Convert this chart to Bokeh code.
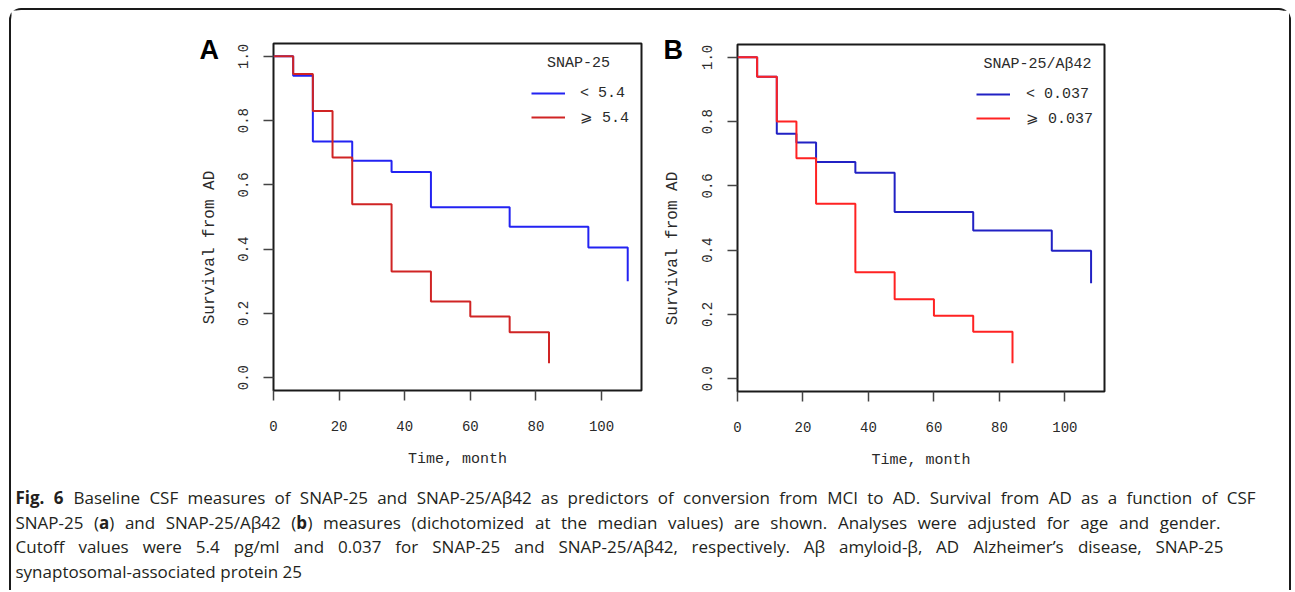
import math
from bokeh.plotting import figure
from bokeh.models import Range1d, FixedTicker, Label, Legend, LegendItem
from bokeh.layouts import column, row
from bokeh.embed import file_html
from bokeh.resources import INLINE
from bokeh.core.properties import value

# ---------------- data ----------------
month_ticks = [0, 20, 40, 60, 80, 100]
surv_ticks = [0.0, 0.2, 0.4, 0.6, 0.8, 1.0]
surv_tick_labels = ["0.0", "0.2", "0.4", "0.6", "0.8", "1.0"]

# Panel A: SNAP-25
a_low_t = [0, 6, 12, 24, 36, 48, 72, 96, 108]
a_low_s = [1.0, 0.94, 0.735, 0.675, 0.64, 0.53, 0.47, 0.405, 0.30]
a_high_t = [0, 6, 12, 18, 24, 36, 48, 60, 72, 84]
a_high_s = [1.0, 0.945, 0.83, 0.685, 0.54, 0.33, 0.237, 0.19, 0.141, 0.045]

# Panel B: SNAP-25/Abeta42
b_low_t = [0, 6, 12, 18, 24, 36, 48, 72, 96, 108]
b_low_s = [1.0, 0.94, 0.762, 0.735, 0.674, 0.641, 0.519, 0.461, 0.398, 0.297]
b_high_t = [0, 6, 12, 18, 24, 36, 48, 60, 72, 84]
b_high_s = [1.0, 0.94, 0.80, 0.686, 0.544, 0.331, 0.247, 0.196, 0.146, 0.048]

a_title = "SNAP-25"
a_labels = ["< 5.4", "\u2a7e 5.4"]
b_title = "SNAP-25/A\u03b242"
b_labels = ["< 0.037", "\u2a7e 0.037"]
y_title = "Survival from AD"
x_title = "Time, month"

# caption lines (**...** = bold)
caption_lines = [
    "**Fig. 6** Baseline CSF measures of SNAP-25 and SNAP-25/A\u03b242 as predictors of conversion from MCI to AD. Survival from AD as a function of CSF",
    "SNAP-25 (**a**) and SNAP-25/A\u03b242 (**b**) measures (dichotomized at the median values) are shown. Analyses were adjusted for age and gender.",
    "Cutoff values were 5.4 pg/ml and 0.037 for SNAP-25 and SNAP-25/A\u03b242, respectively. A\u03b2 amyloid-\u03b2, AD Alzheimer\u2019s disease, SNAP-25",
    "synaptosomal-associated protein 25",
]

MONO = "Liberation Mono"
TXT = "#2a2a2a"
H = 470


def side_strip(width, letter, letter_x, title_x, title_y):
    """Narrow strip holding the panel letter and the rotated y-axis title."""
    s = figure(width=width, height=H, x_range=Range1d(0, width), y_range=Range1d(H, 0),
               output_backend="svg", toolbar_location=None, min_border=0,
               frame_align=False)
    s.axis.visible = False
    s.grid.visible = False
    s.outline_line_color = None
    s.background_fill_color = "white"
    s.border_fill_color = "white"
    s.text(x=[letter_x], y=[39], text=[letter], text_font=value("Liberation Sans"),
           text_font_style="bold", text_font_size="27px", text_baseline="alphabetic",
           text_align="left", text_color="black")
    s.text(x=[title_x], y=[title_y], text=[y_title], angle=math.pi / 2,
           text_font=value(MONO), text_font_size="16px", text_baseline="middle",
           text_align="center", text_color=TXT)
    return s


def make_panel(width, mbl, mbr, mbt, mbb, xmax, low_t, low_s, high_t, high_s,
               low_color, high_color, title, labels, leg_loc, leg_title_dx,
               label_standoff):
    p = figure(width=width, height=H, x_range=Range1d(0, xmax),
               y_range=Range1d(-0.04, 1.04), output_backend="svg",
               toolbar_location=None, min_border_left=mbl, min_border_right=mbr,
               min_border_top=mbt, min_border_bottom=mbb, frame_align=False)
    p.grid.visible = False
    p.outline_line_color = "#1a1a1a"
    p.outline_line_width = 2
    p.background_fill_color = "white"
    p.border_fill_color = "white"

    for ax in (p.xaxis[0], p.yaxis[0]):
        ax.axis_line_color = None
        ax.major_tick_out = 10
        ax.major_tick_in = 0
        ax.minor_tick_out = 0
        ax.minor_tick_in = 0
        ax.major_tick_line_color = "#444444"
        ax.major_tick_line_width = 1.5
        ax.major_label_text_font = MONO
        ax.major_label_text_font_size = "14px"
        ax.major_label_text_color = TXT

    xa = p.xaxis[0]
    xa.ticker = FixedTicker(ticks=month_ticks)
    xa.major_label_standoff = 20
    xa.axis_label = x_title
    xa.axis_label_text_font = MONO
    xa.axis_label_text_font_size = "15px"
    xa.axis_label_text_font_style = "normal"
    xa.axis_label_text_color = TXT
    xa.axis_label_standoff = 17

    ya = p.yaxis[0]
    ya.ticker = FixedTicker(ticks=surv_ticks)
    ya.major_label_overrides = {t: l for t, l in zip(surv_ticks, surv_tick_labels)}
    ya.major_label_orientation = "vertical"
    ya.major_label_standoff = 15

    r_low = p.step(low_t, low_s, mode="after", line_color=low_color, line_width=2)
    r_high = p.step(high_t, high_s, mode="after", line_color=high_color, line_width=2)

    leg = Legend(items=[LegendItem(label=labels[0], renderers=[r_low]),
                        LegendItem(label=labels[1], renderers=[r_high])],
                 location=leg_loc, padding=0, margin=0, spacing=0,
                 glyph_width=34, glyph_height=24, label_height=24,
                 label_standoff=label_standoff,
                 label_text_font=MONO, label_text_font_size="15px",
                 label_text_color=TXT, border_line_alpha=0,
                 background_fill_alpha=0)
    p.add_layout(leg)

    p.add_layout(Label(x=0, y=1.04, x_offset=leg_title_dx, y_offset=-20,
                       text=title, text_align="center", text_baseline="middle",
                       text_font=MONO, text_font_size="15px", text_color=TXT))
    return p


# page x: content starts at 11 (margin 9 + border 2)
sA = side_strip(214, "A", 188, 198, 237)
pA = make_panel(426, 48, 10, 33, 90, 112.2, a_low_t, a_low_s, a_high_t, a_high_s,
                "#2323f2", "#d02424", a_title, a_labels, (258, 261), 305, 15)
sB = side_strip(39, "B", 12, 21, 238)
pB = make_panel(599, 47, 185, 34, 89, 112.1, b_low_t, b_low_s, b_high_t, b_high_s,
                "#2121c4", "#ff2222", b_title, b_labels, (239, 261), 300, 16)

# ---------------- caption (justified word layout) ----------------
OPEN_SANS_W = {
    " ": 532, "(": 606, ")": 606, ",": 502, "-": 659, ".": 545, "/": 752, "\u2019": 350,
    "0": 1171, "1": 1171, "2": 1171, "3": 1171, "4": 1171, "5": 1171, "6": 1171,
    "7": 1171, "8": 1171, "9": 1171, "\u03b2": 1260,
    "A": 1296, "B": 1327, "C": 1292, "D": 1493, "E": 1139, "F": 1057, "G": 1491,
    "H": 1511, "I": 571, "J": 547, "K": 1257, "L": 1063, "M": 1849, "N": 1544,
    "O": 1595, "P": 1233, "Q": 1595, "R": 1266, "S": 1124, "T": 1133, "U": 1491,
    "V": 1219, "W": 1896, "X": 1182, "Y": 1147, "Z": 1169,
    "a": 1139, "b": 1255, "c": 975, "d": 1255, "e": 1149, "f": 694, "g": 1122,
    "h": 1257, "i": 518, "j": 518, "k": 1075, "l": 518, "m": 1905, "n": 1257,
    "o": 1237, "p": 1255, "q": 1255, "r": 836, "s": 977, "t": 723, "u": 1257,
    "v": 1026, "w": 1593, "x": 1073, "y": 1028, "z": 977,
}
CAP_SIZE = 17


def text_w(s, bold):
    w = sum(OPEN_SANS_W.get(c, 1150) for c in s) / 2048 * CAP_SIZE
    return w * (1.08 if bold else 1.0)


def parse_words(line):
    chars = []
    bold = False
    parts = line.split("**")
    for i, part in enumerate(parts):
        for c in part:
            chars.append((c, bold))
        if i < len(parts) - 1:
            bold = not bold
    words, cur = [], []
    for c, b in chars:
        if c == " ":
            if cur:
                words.append(cur)
            cur = []
        else:
            cur.append((c, b))
    if cur:
        words.append(cur)
    runs_per_word = []
    for w in words:
        runs = []
        for c, b in w:
            if runs and runs[-1][1] == b:
                runs[-1][0] += c
            else:
                runs.append([c, b])
        runs_per_word.append(runs)
    return runs_per_word


line_y = [17, 42, 66, 91]
line_end = [1244, 1209, 1212, None]   # justified right edge (caption coords)
x0 = 4
nx, ny, nt, bx, by, bt = [], [], [], [], [], []
for line, yy, end in zip(caption_lines, line_y, line_end):
    words = parse_words(line)
    widths = [sum(text_w(r[0], r[1]) for r in w) for w in words]
    space = text_w(" ", False)
    if end is not None and len(words) > 1:
        gap = (end - x0 - sum(widths)) / (len(words) - 1)
    else:
        gap = space
    x = x0
    for w, ww in zip(words, widths):
        xr = x
        for txt, b in w:
            if b:
                bx.append(xr); by.append(yy); bt.append(txt)
            else:
                nx.append(xr); ny.append(yy); nt.append(txt)
            xr += text_w(txt, b)
        x += ww + gap

cap = figure(width=1278, height=110, x_range=Range1d(0, 1278), y_range=Range1d(110, 0),
             output_backend="svg", toolbar_location=None, min_border=0, frame_align=False)
cap.axis.visible = False
cap.grid.visible = False
cap.outline_line_color = None
cap.background_fill_color = "white"
cap.border_fill_color = "white"
cap.text(x=nx, y=ny, text=nt, text_font=value("Open Sans"),
         text_font_size=f"{CAP_SIZE}px", text_baseline="middle", text_align="left",
         text_color="#231f20")
cap.text(x=bx, y=by, text=bt, text_font=value("Open Sans"),
         text_font_size=f"{CAP_SIZE}px", text_font_style="bold", text_baseline="middle",
         text_align="left", text_color="#231f20")

layout = column(row(sA, pA, sB, pB), cap, margin=(8, 0, 0, 9),
                styles={"border": "2px solid #1a1a1a", "border-bottom": "none",
                        "border-radius": "12px 12px 0 0", "background": "white"})

open("out.html", "w").write(file_html(layout, INLINE))
